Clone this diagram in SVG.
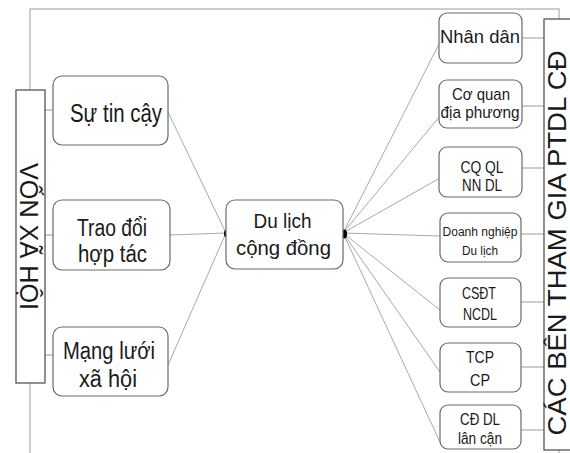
<svg xmlns="http://www.w3.org/2000/svg" width="570" height="453" viewBox="0 0 570 453">
<style>
  .frame { fill: none; stroke: #bdbdbd; stroke-width: 1.5; }
  .bar { fill: #ffffff; stroke: #555555; stroke-width: 1.3; }
  .node { fill: #ffffff; stroke: #6a6a6a; stroke-width: 1.2; }
  .conn { fill: none; stroke: #a9a9a9; stroke-width: 1; }
  .tick { fill: none; stroke: #9a9a9a; stroke-width: 1; }
  text { font-family: "Liberation Sans", Arial, sans-serif; fill: #1a1a1a; text-anchor: middle; }
</style>
<rect width="570" height="453" fill="#ffffff"/>
<g id="frame">
  <polyline class="frame" points="30,90 30,9 559,9 559,19"/>
  <line class="frame" x1="30" y1="383" x2="30" y2="453"/>
  <line class="frame" x1="559" y1="450" x2="559" y2="453"/>
</g>
<g id="connectors">
  <line class="tick" x1="45" y1="110" x2="53" y2="110"/>
  <line class="tick" x1="45" y1="235" x2="53" y2="235"/>
  <line class="tick" x1="45" y1="355" x2="53" y2="355"/>
  <line class="conn" x1="168" y1="112" x2="226" y2="233"/>
  <line class="conn" x1="170" y1="235" x2="226" y2="233"/>
  <line class="conn" x1="168" y1="365" x2="226" y2="233"/>
  <line class="conn" x1="343" y1="233" x2="440" y2="42"/>
  <line class="conn" x1="343" y1="233" x2="440" y2="116"/>
  <line class="conn" x1="343" y1="233" x2="440" y2="178"/>
  <line class="conn" x1="343" y1="233" x2="440" y2="236"/>
  <line class="conn" x1="343" y1="233" x2="440" y2="310"/>
  <line class="conn" x1="343" y1="233" x2="440" y2="372"/>
  <line class="conn" x1="343" y1="233" x2="440" y2="442"/>
  <line class="tick" x1="522" y1="38" x2="544" y2="38"/>
  <line class="tick" x1="522" y1="106" x2="544" y2="106"/>
  <line class="tick" x1="522" y1="168" x2="544" y2="168"/>
  <line class="tick" x1="521" y1="234" x2="544" y2="234"/>
  <line class="tick" x1="521" y1="302" x2="544" y2="302"/>
  <line class="tick" x1="521" y1="367" x2="544" y2="367"/>
  <line class="tick" x1="521" y1="430" x2="544" y2="430"/>
  <ellipse cx="226" cy="233.5" rx="2" ry="3.5" fill="#000000"/>
  <ellipse cx="344.5" cy="234" rx="2.5" ry="4.5" fill="#000000"/>
</g>
<g id="von-xa-hoi">
  <rect class="bar" x="16" y="90" width="29" height="293"/>
  <text transform="translate(20,236.5) rotate(90)" font-size="25" textLength="147" lengthAdjust="spacingAndGlyphs">VỐN XÃ HỘI</text>
</g>
<g id="cac-ben">
  <rect class="bar" x="544" y="19" width="40" height="431"/>
  <text transform="translate(566,243) rotate(-90)" font-size="25" textLength="385" lengthAdjust="spacingAndGlyphs">CÁC BÊN THAM GIA PTDL CĐ</text>
</g>
<g id="su-tin-cay">
  <rect class="node" x="53" y="76" width="115" height="69" rx="9"/>
  <text x="116" y="122" font-size="25" textLength="92" lengthAdjust="spacingAndGlyphs">Sự tin cậy</text>
</g>
<g id="trao-doi">
  <rect class="node" x="53" y="200" width="117" height="70" rx="9"/>
  <text x="112" y="236" font-size="23" textLength="70" lengthAdjust="spacingAndGlyphs">Trao đổi</text>
  <text x="112.5" y="262" font-size="23" textLength="69" lengthAdjust="spacingAndGlyphs">hợp tác</text>
</g>
<g id="mang-luoi">
  <rect class="node" x="53" y="327" width="115" height="69" rx="9"/>
  <text x="109" y="359" font-size="23" textLength="92" lengthAdjust="spacingAndGlyphs">Mạng lưới</text>
  <text x="108" y="387" font-size="23" textLength="58" lengthAdjust="spacingAndGlyphs">xã hội</text>
</g>
<g id="du-lich-cong-dong">
  <rect class="node" x="226" y="200" width="117" height="69" rx="9"/>
  <text x="282.5" y="228" font-size="21" textLength="58" lengthAdjust="spacingAndGlyphs">Du lịch</text>
  <text x="283.5" y="255" font-size="21" textLength="95" lengthAdjust="spacingAndGlyphs">cộng đồng</text>
</g>
<g id="nhan-dan">
  <rect class="node" x="439" y="13" width="83" height="50" rx="8"/>
  <text x="480" y="43" font-size="19" textLength="80" lengthAdjust="spacingAndGlyphs">Nhân dân</text>
</g>
<g id="co-quan">
  <rect class="node" x="439" y="80" width="83" height="48" rx="8"/>
  <text x="481" y="100" font-size="17" textLength="58" lengthAdjust="spacingAndGlyphs">Cơ quan</text>
  <text x="480" y="118" font-size="17" textLength="79" lengthAdjust="spacingAndGlyphs">địa phương</text>
</g>
<g id="cq-ql">
  <rect class="node" x="439" y="147" width="83" height="50" rx="8"/>
  <text x="482" y="173" font-size="17" textLength="43" lengthAdjust="spacingAndGlyphs">CQ QL</text>
  <text x="482" y="191" font-size="17" textLength="40" lengthAdjust="spacingAndGlyphs">NN DL</text>
</g>
<g id="doanh-nghiep">
  <rect class="node" x="440" y="213" width="81" height="49" rx="8"/>
  <text x="480" y="236" font-size="12.5" textLength="75" lengthAdjust="spacingAndGlyphs">Doanh nghiệp</text>
  <text x="480" y="255" font-size="12.5" textLength="36" lengthAdjust="spacingAndGlyphs">Du lịch</text>
</g>
<g id="csdt">
  <rect class="node" x="440" y="278" width="81" height="49" rx="8"/>
  <text x="479" y="299" font-size="17" textLength="34" lengthAdjust="spacingAndGlyphs">CSĐT</text>
  <text x="480" y="320" font-size="17" textLength="34" lengthAdjust="spacingAndGlyphs">NCDL</text>
</g>
<g id="tcp">
  <rect class="node" x="440" y="343" width="81" height="49" rx="8"/>
  <text x="480" y="363" font-size="17" textLength="28" lengthAdjust="spacingAndGlyphs">TCP</text>
  <text x="480" y="386" font-size="17" textLength="20" lengthAdjust="spacingAndGlyphs">CP</text>
</g>
<g id="cd-dl">
  <rect class="node" x="440" y="405" width="81" height="44" rx="8"/>
  <text x="480" y="425" font-size="17" textLength="40" lengthAdjust="spacingAndGlyphs">CĐ DL</text>
  <text x="480" y="444" font-size="17" textLength="44" lengthAdjust="spacingAndGlyphs">lân cận</text>
</g>
</svg>
